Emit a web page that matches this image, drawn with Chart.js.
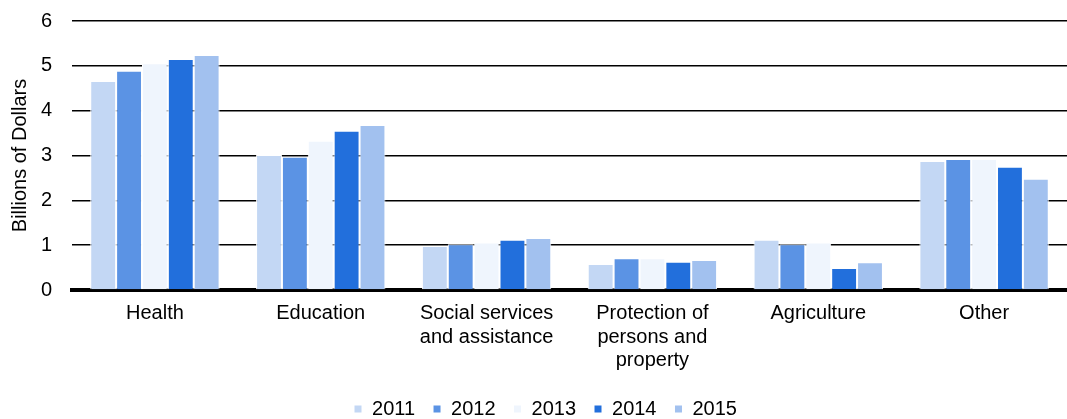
<!DOCTYPE html>
<html>
<head>
<meta charset="utf-8">
<script src="https://cdn.jsdelivr.net/npm/chart.js@4.4.1/dist/chart.umd.min.js"></script>
<style>
  html, body { margin: 0; padding: 0; background: #ffffff; }
  #wrap { width: 1067px; height: 419px; position: relative; }
</style>
</head>
<body>
<div id="wrap"><canvas id="chart"></canvas></div>
<script>
// Spending by category, billions of dollars
const categories = [
  'Health',
  'Education',
  ['Social services', 'and assistance'],
  ['Protection of', 'persons and', 'property'],
  'Agriculture',
  'Other'
];
const years = ['2011', '2012', '2013', '2014', '2015'];
const values2011 = [4.66, 3.01, 0.98, 0.58, 1.12, 2.88];
const values2012 = [4.89, 2.97, 1.02, 0.71, 1.02, 2.92];
const values2013 = [5.06, 3.33, 1.06, 0.71, 1.06, 2.92];
const values2014 = [5.15, 3.55, 1.12, 0.63, 0.49, 2.75];
const values2015 = [5.24, 3.68, 1.16, 0.67, 0.62, 2.48];
const yTicks = [0, 1, 2, 3, 4, 5, 6];

const seriesValues = [values2011, values2012, values2013, values2014, values2015];
const seriesColors = ['#c3d7f4', '#5b93e4', '#eff5fd', '#226fdc', '#a2c1ef'];

const FONT = '"Liberation Sans", Arial, sans-serif';

// nudge the legend row sideways after layout
const legendShift = {
  id: 'legendShift',
  afterLayout(chart) {
    if (chart.legend) {
      chart.legend.left += 12;
      chart.legend.right += 12;
    }
  }
};

new Chart(document.getElementById('chart'), {
  type: 'bar',
  data: {
    labels: categories,
    datasets: years.map((y, i) => ({
      label: y,
      data: seriesValues[i],
      backgroundColor: seriesColors[i],
      borderColor: '#ffffff',
      borderWidth: 1,
      categoryPercentage: 0.78,
      barPercentage: 1.0
    }))
  },
  options: {
    responsive: true,
    maintainAspectRatio: false,
    animation: false,
    layout: { padding: { top: 21, left: 0, right: 0, bottom: 0 } },
    plugins: {
      tooltip: { enabled: false },
      legend: {
        position: 'bottom',
        maxHeight: 38,
        labels: {
          boxWidth: 8,
          boxHeight: 8,
          padding: 18,
          color: '#000000',
          font: { family: FONT, size: 20 }
        }
      }
    },
    scales: {
      x: {
        z: 1,
        grid: { display: false, drawTicks: false },
        border: { display: true, color: '#000000', width: 4 },
        ticks: {
          color: '#000000',
          padding: 12,
          maxRotation: 0,
          autoSkip: false,
          font: { family: FONT, size: 20, lineHeight: 1.17 }
        },
        afterFit(scale) {
          scale.height = 91;
          scale.paddingLeft = 0;
          scale.paddingRight = 0;
        }
      },
      y: {
        min: 0,
        max: 6,
        afterBuildTicks(scale) { scale.ticks = yTicks.map(v => ({ value: v })); },
        grid: {
          drawTicks: false,
          lineWidth: 1.6,
          color: ctx => (ctx.tick && ctx.tick.value === 0) ? 'rgba(0,0,0,0)' : '#000000'
        },
        border: { display: false },
        ticks: {
          color: '#000000',
          padding: 20,
          font: { family: FONT, size: 20 }
        },
        title: {
          display: true,
          text: 'Billions of Dollars',
          color: '#000000',
          padding: { top: 8, bottom: 0 },
          font: { family: FONT, size: 20 }
        },
        afterFit(scale) {
          scale.width = 72;
          scale.paddingTop = 0;
          scale.paddingBottom = 0;
        }
      }
    }
  },
  plugins: [legendShift]
});
</script>
</body>
</html>
